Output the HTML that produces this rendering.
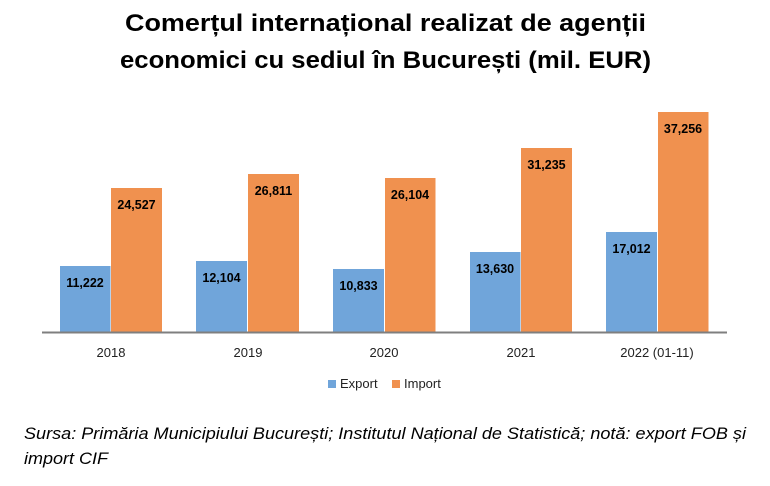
<!DOCTYPE html>
<html><head><meta charset="utf-8"><style>
body{margin:0;width:770px;height:481px;background:#fff;overflow:hidden;font-family:"Liberation Sans",sans-serif}
</style></head><body>
<svg width="770" height="481" xmlns="http://www.w3.org/2000/svg" font-family="Liberation Sans, sans-serif">
<text x="125" y="31" textLength="521" lengthAdjust="spacingAndGlyphs" font-size="24" font-weight="bold" fill="#000">Comerțul internațional realizat de agenții</text>
<text x="120" y="68" textLength="531" lengthAdjust="spacingAndGlyphs" font-size="24" font-weight="bold" fill="#000">economici cu sediul în București (mil. EUR)</text>
<g font-size="12.5" font-weight="bold" text-anchor="middle" fill="#000">
<rect x="60" y="266" width="50.5" height="66" fill="#70A5DA"/><text x="85" y="287">11,222</text>
<rect x="111" y="188" width="51" height="144" fill="#F0914F"/><text x="136.5" y="209">24,527</text>
<rect x="196" y="261" width="51" height="71" fill="#70A5DA"/><text x="221.5" y="282">12,104</text>
<rect x="248" y="174" width="51" height="158" fill="#F0914F"/><text x="273.5" y="195">26,811</text>
<rect x="333" y="269" width="51" height="63" fill="#70A5DA"/><text x="358.5" y="290">10,833</text>
<rect x="385" y="178" width="50.5" height="154" fill="#F0914F"/><text x="410" y="199">26,104</text>
<rect x="470" y="252" width="50.5" height="80" fill="#70A5DA"/><text x="495" y="273">13,630</text>
<rect x="521" y="148" width="51" height="184" fill="#F0914F"/><text x="546.5" y="169">31,235</text>
<rect x="606" y="232" width="51" height="100" fill="#70A5DA"/><text x="631.5" y="253">17,012</text>
<rect x="658" y="112" width="50.5" height="220" fill="#F0914F"/><text x="683" y="133">37,256</text>
</g>
<line x1="42" y1="332.5" x2="727" y2="332.5" stroke="#7f7f7f" stroke-width="2"/>
<g font-size="13" text-anchor="middle" fill="#222">
<text x="111" y="357">2018</text><text x="248" y="357">2019</text><text x="384" y="357">2020</text><text x="521" y="357">2021</text><text x="657" y="357">2022 (01-11)</text>
</g>
<rect x="328" y="380" width="8" height="8" fill="#70A5DA"/><text x="340" y="388" font-size="13" fill="#222">Export</text>
<rect x="392" y="380" width="8" height="8" fill="#F0914F"/><text x="404" y="388" font-size="13" fill="#222">Import</text>
<g font-size="17" font-style="italic" fill="#000">
<text x="24" y="439" textLength="722" lengthAdjust="spacingAndGlyphs">Sursa: Primăria Municipiului București; Institutul Național de Statistică; notă: export FOB și</text>
<text x="24" y="464" textLength="84" lengthAdjust="spacingAndGlyphs">import CIF</text>
</g>
</svg>
</body></html>
